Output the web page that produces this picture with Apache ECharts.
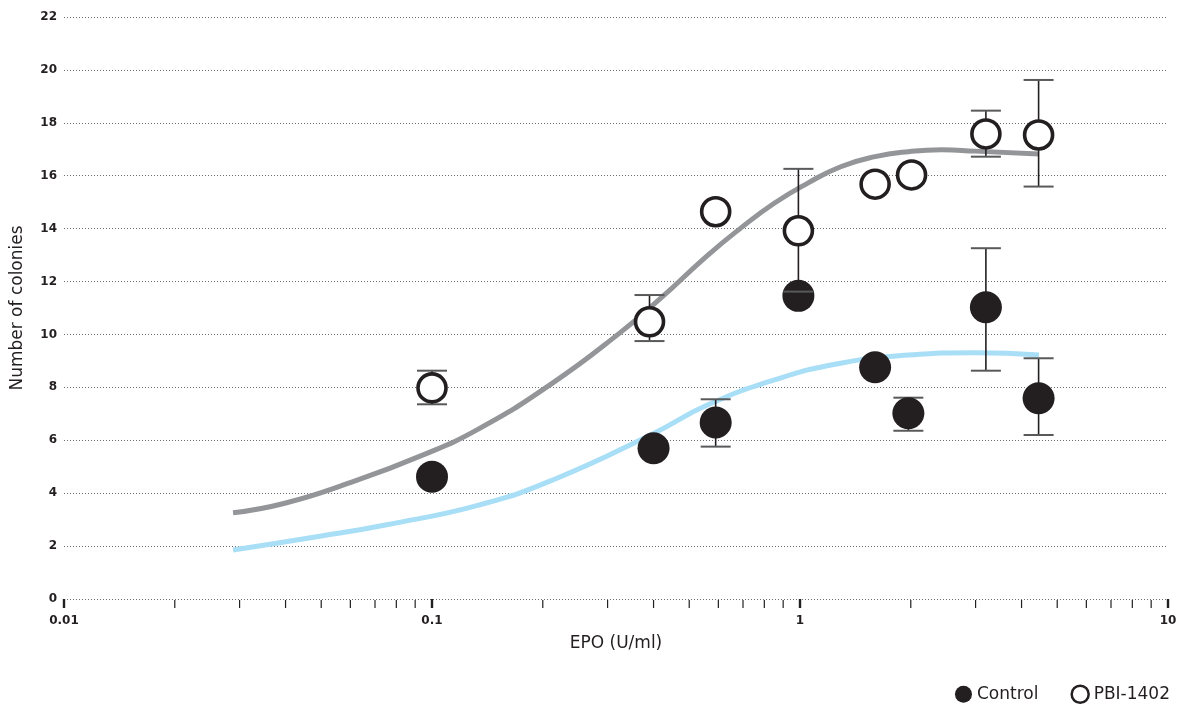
<!DOCTYPE html>
<html>
<head>
<meta charset="utf-8">
<script src="https://cdn.jsdelivr.net/npm/echarts@6/dist/echarts.min.js"></script>
<style>
html,body{margin:0;padding:0;background:#fff;}
#chart{width:1181px;height:711px;}
</style>
</head>
<body>
<div id="chart"></div>
<script>
// ---- data ----
const ctrlX    = [0.1, 0.4, 0.59, 0.99, 1.6, 1.97, 3.2, 4.45];
const ctrlY    = [4.62, 5.70, 6.67, 11.46, 8.76, 7.02, 11.03, 7.59];
const ctrlLow  = [null, null, 5.76, null, null, 6.36, 8.63, 6.20];
const ctrlHigh = [null, null, 7.55, null, null, 7.61, 13.26, 9.10];

const pbiX     = [0.1, 0.39, 0.59, 0.99, 1.6, 2.01, 3.2, 4.45];
const pbiY     = [7.98, 10.48, 14.64, 13.92, 15.68, 16.03, 17.58, 17.54];
const pbiLow   = [7.36, 9.75, null, 11.62, null, null, 16.72, 15.59];
const pbiHigh  = [8.63, 11.49, null, 16.26, null, null, 18.46, 19.62];

const pbiFitX  = [0.0288, 0.0398, 0.0605, 0.0921, 0.134, 0.213, 0.324, 0.417, 0.56, 0.69, 0.851, 1.05, 1.29, 1.6, 1.97, 2.43, 2.99, 4.46];
const pbiFitY  = [3.26, 3.62, 4.42, 5.38, 6.43, 8.17, 10.06, 11.35, 12.98, 14.02, 14.96, 15.72, 16.34, 16.72, 16.91, 16.98, 16.93, 16.82];

const ctrlFitX = [0.0288, 0.0491, 0.0747, 0.134, 0.213, 0.40, 0.56, 0.851, 1.29, 1.97, 2.99, 4.46];
const ctrlFitY = [1.85, 2.36, 2.80, 3.55, 4.50, 6.26, 7.33, 8.28, 8.91, 9.22, 9.31, 9.22];

const minorTicks = [0.02,0.03,0.04,0.05,0.06,0.07,0.08,0.09,0.2,0.3,0.4,0.5,0.6,0.7,0.8,0.9,2,3,4,5,6,7,8,9];

const xName = 'EPO (U/ml)';
const yName = 'Number of colonies';
const legendNames = ['Control', 'PBI-1402'];

// ---- build ----
const zip = (a, b) => a.map((v, i) => [v, b[i]]);
const errData = (xs, lo, hi) => xs.map((x, i) => [x, lo[i], hi[i]]).filter(d => d[1] != null);

const FONT = 'DejaVu Sans';
const INK = '#231f20';

function errRender(params, api) {
  const x = api.value(0), lo = api.value(1), hi = api.value(2);
  const p1 = api.coord([x, lo]);
  const p2 = api.coord([x, hi]);
  const h = 15;
  return {
    type: 'group',
    children: [
      {type: 'line', shape: {x1: p1[0], y1: p1[1], x2: p2[0], y2: p2[1]}, style: {stroke: INK, lineWidth: 1.6}},
      {type: 'line', shape: {x1: p1[0] - h, y1: p1[1], x2: p1[0] + h, y2: p1[1]}, style: {stroke: '#58595b', lineWidth: 2}},
      {type: 'line', shape: {x1: p2[0] - h, y1: p2[1], x2: p2[0] + h, y2: p2[1]}, style: {stroke: '#58595b', lineWidth: 2}}
    ]
  };
}

function minorRender(params, api) {
  const p = api.coord([api.value(0), 0]);
  return {type: 'line', shape: {x1: p[0], y1: p[1] + 1, x2: p[0], y2: p[1] + 9}, style: {stroke: INK, lineWidth: 1.2}};
}

const chart = echarts.init(document.getElementById('chart'), null, {renderer: 'canvas'});
chart.setOption({
  animation: false,
  backgroundColor: '#fff',
  grid: {left: 64, right: 13, top: 17, bottom: 112},
  legend: {
    data: [
      {name: legendNames[0], icon: 'circle', itemStyle: {color: INK, borderColor: INK, borderWidth: 0}},
      {name: legendNames[1], icon: 'circle', itemStyle: {color: '#fff', borderColor: INK, borderWidth: 2.5}}
    ],
    right: 6, bottom: 2,
    itemWidth: 17, itemHeight: 17, itemGap: 32,
    textStyle: {fontFamily: FONT, fontSize: 17, color: INK}
  },
  xAxis: {
    type: 'log', logBase: 10, min: 0.01, max: 10,
    name: xName, nameLocation: 'middle', nameGap: 36,
    nameTextStyle: {fontFamily: FONT, fontSize: 17, color: INK},
    axisLine: {show: false},
    axisTick: {show: true, length: 9, lineStyle: {color: INK, width: 2.4}},
    axisLabel: {
      margin: 16, fontFamily: FONT, fontWeight: 'bold', fontSize: 12, color: INK,
      formatter: v => String(+(+v).toPrecision(3))
    },
    splitLine: {show: false},
    minorTick: {show: false}
  },
  yAxis: {
    type: 'value', min: 0, max: 22, interval: 2,
    name: yName, nameLocation: 'middle', nameGap: 38,
    nameTextStyle: {fontFamily: FONT, fontSize: 17, color: INK},
    axisLine: {show: false},
    axisTick: {show: false},
    axisLabel: {margin: 7, fontFamily: FONT, fontWeight: 'bold', fontSize: 12, color: INK},
    splitLine: {show: true, lineStyle: {type: [1, 2], color: '#6d6e71', width: 1}}
  },
  series: [
    {
      name: 'minorTicks', type: 'custom', renderItem: minorRender, clip: false, silent: true,
      data: minorTicks.map(v => [v, 0]), encode: {x: 0, y: 1}, z: 1
    },
    {
      name: 'PBI fit', type: 'line', data: zip(pbiFitX, pbiFitY), smooth: 0.5, showSymbol: false, silent: true,
      lineStyle: {color: '#939598', width: 5}, z: 2
    },
    {
      name: 'Control fit', type: 'line', data: zip(ctrlFitX, ctrlFitY), smooth: 0.5, showSymbol: false, silent: true,
      lineStyle: {color: '#a8def6', width: 5}, z: 2
    },
    {
      name: 'Control err', type: 'custom', renderItem: errRender, silent: true,
      data: errData(ctrlX, ctrlLow, ctrlHigh), encode: {x: 0, y: [1, 2]}, z: 3
    },
    {
      name: legendNames[0], type: 'scatter', data: zip(ctrlX, ctrlY), symbol: 'circle', symbolSize: 32,
      itemStyle: {color: INK, opacity: 1}, z: 4
    },
    {
      name: 'PBI err', type: 'custom', renderItem: errRender, silent: true,
      data: errData(pbiX, pbiLow, pbiHigh), encode: {x: 0, y: [1, 2]}, z: 5
    },
    {
      name: legendNames[1], type: 'scatter', data: zip(pbiX, pbiY), symbol: 'circle', symbolSize: 28,
      itemStyle: {color: '#fff', borderColor: INK, borderWidth: 3.6, opacity: 1}, z: 6
    }
  ]
});
</script>
</body>
</html>
